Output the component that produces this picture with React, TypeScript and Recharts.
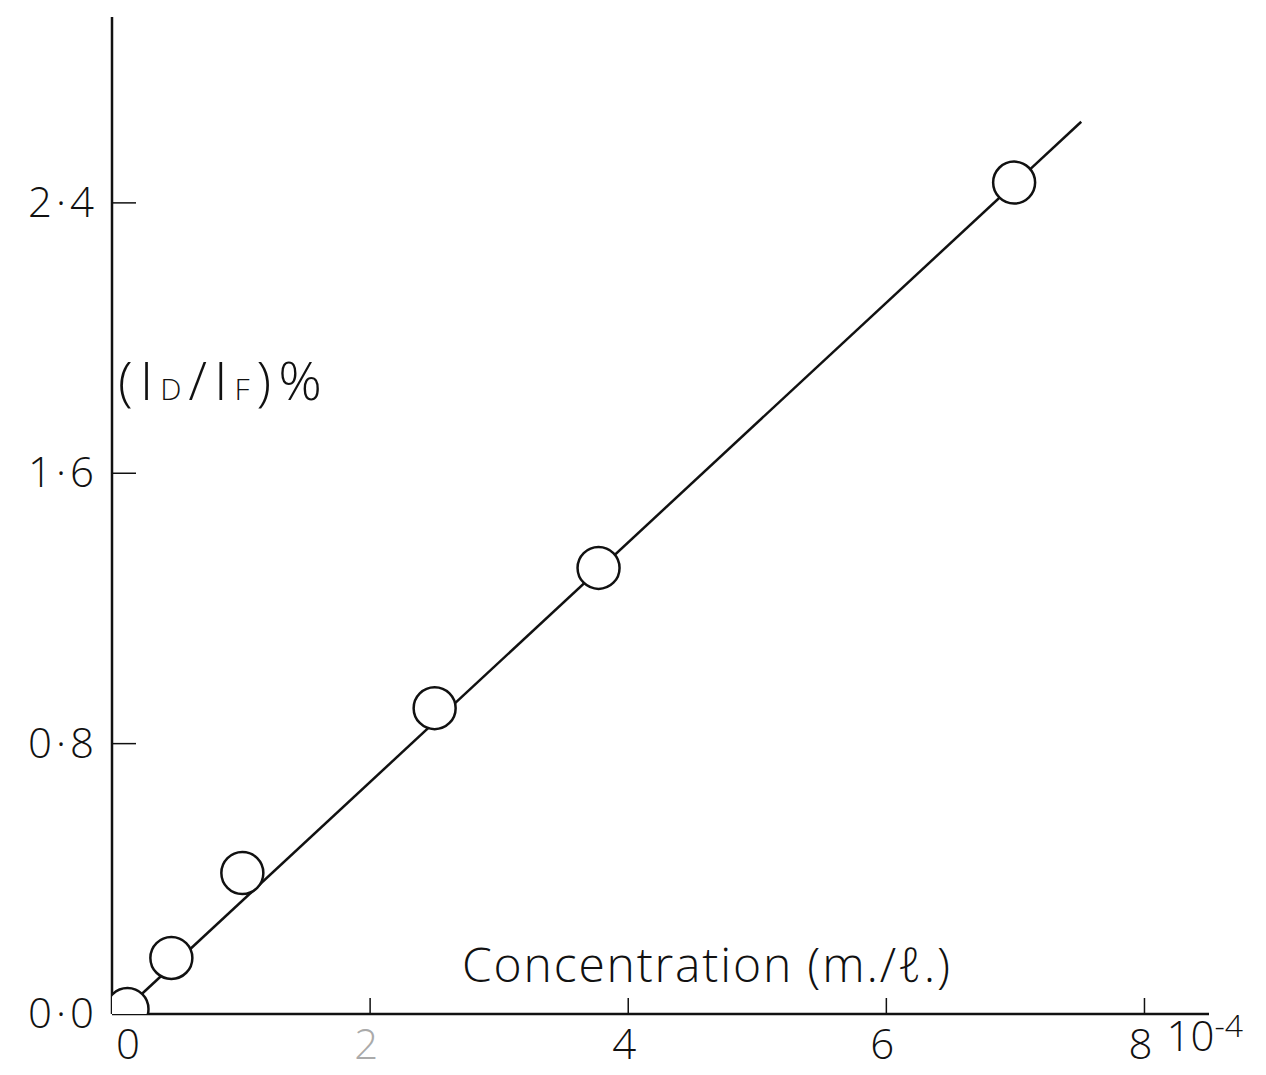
import React from 'react';
import {
  ComposedChart,
  Line,
  Scatter,
  XAxis,
  YAxis,
  Label,
} from 'recharts';

// measured points: concentration (x 10^-4 m/l) vs (ID/IF) %
const concentration = [0.12, 0.46, 1.01, 2.5, 3.77, 6.99];
const ratio = [0.015, 0.166, 0.417, 0.905, 1.32, 2.46];

// hand-drawn straight line, read at its two ends
const lineX = [0.12, 7.51];
const lineY = [0.02, 2.64];

const xTicks = [0, 2, 4, 6, 8];
const yTicks = [0, 0.8, 1.6, 2.4];
const yTickLabels = ['0·0', '0·8', '1·6', '2·4'];

const points = concentration.map((x, i) => ({ x, y: ratio[i] }));
const fitLine = lineX.map((x, i) => ({ x, y: lineY[i] }));

const FONT = '"Open Sans", "DejaVu Sans", sans-serif';
const INK = '#111';

const Ring = (props: any) => {
  const { cx, cy } = props;
  if (cx == null || cy == null) return null;
  return <circle cx={cx} cy={cy} r={21} fill="#fff" stroke={INK} strokeWidth={2.5} />;
};

const YTick = (props: any) => {
  const { x, y, payload } = props;
  const idx = yTicks.indexOf(payload.value);
  return (
    <g>
      {payload.value !== 0 && (
        <line x1={x} y1={y} x2={x + 24} y2={y} stroke={INK} strokeWidth={1.5} />
      )}
      <text
        x={x - 14}
        y={y + 14}
        textAnchor="end"
        fontFamily={FONT}
        fontWeight={300}
        fontSize={42}
        letterSpacing={4}
        fill={INK}
      >
        {yTickLabels[idx]}
      </text>
    </g>
  );
};

const XTick = (props: any) => {
  const { x, y, payload } = props;
  const v = payload.value;
  const common = { fontFamily: FONT, fontWeight: 300, fontSize: 42, fill: INK };
  return (
    <g>
      {v !== 0 && (
        <line x1={x} y1={y} x2={x} y2={y - 16} stroke={INK} strokeWidth={1.5} />
      )}
      <text
        x={v === 0 ? x + 16 : x - 4}
        y={y + 45}
        textAnchor="middle"
        {...common}
        fill={v === 2 ? '#aaa' : INK}
      >
        {String(v)}
      </text>
      {v === 8 && (
        <text x={x + 22} y={y + 37} textAnchor="start" {...common}>
          10
          <tspan dy={-14} fontSize={32}>-4</tspan>
        </text>
      )}
    </g>
  );
};

export default function App() {
  return (
    <div style={{ position: 'absolute', left: 0, top: 0, background: '#fff' }}>
      <ComposedChart
        width={1266}
        height={1075}
        margin={{ top: 17, right: 57, bottom: 11, left: 22 }}
      >
        <XAxis
          type="number"
          dataKey="x"
          domain={[0, 8.5]}
          ticks={xTicks}
          allowDataOverflow
          tickSize={0}
          tickMargin={0}
          tickLine={false}
          height={50}
          axisLine={{ stroke: INK, strokeWidth: 2.5 }}
          tick={<XTick />}
        >
          <Label
            content={() => (
              <text
                x={462}
                y={982}
                fontFamily={FONT}
                fontWeight={300}
                fontSize={48}
                textLength={488}
                lengthAdjust="spacing"
                fill={INK}
              >
                Concentration (m./ℓ.)
              </text>
            )}
          />
        </XAxis>
        <YAxis
          type="number"
          dataKey="y"
          domain={[0, 2.95]}
          ticks={yTicks}
          allowDataOverflow
          tickSize={0}
          tickMargin={0}
          tickLine={false}
          width={90}
          axisLine={{ stroke: INK, strokeWidth: 2.5 }}
          tick={<YTick />}
        >
          <Label
            content={() => (
              <text
                x={118}
                y={400}
                fontFamily={FONT}
                fontWeight={300}
                fontSize={54}
                letterSpacing={7}
                fill={INK}
              >
                (I
                <tspan fontSize={30}>D</tspan>
                /I
                <tspan fontSize={30}>F</tspan>
                )%
              </text>
            )}
          />
        </YAxis>
        <Line
          data={fitLine}
          dataKey="y"
          type="linear"
          stroke={INK}
          strokeWidth={2.5}
          dot={false}
          activeDot={false}
          isAnimationActive={false}
        />
        <Scatter
          data={points}
          dataKey="y"
          shape={<Ring />}
          isAnimationActive={false}
        />
      </ComposedChart>
    </div>
  );
}
